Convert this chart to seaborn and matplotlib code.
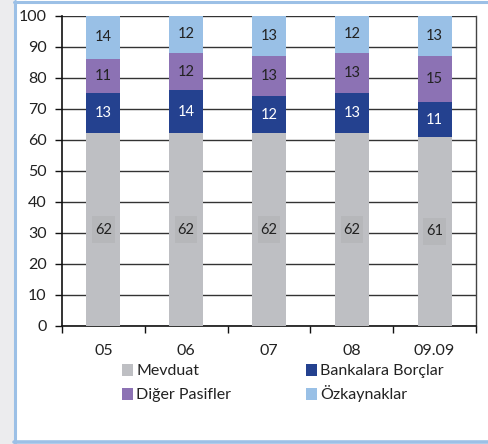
import matplotlib
matplotlib.use("Agg")
import matplotlib.pyplot as plt
from matplotlib.patches import Rectangle
from matplotlib.lines import Line2D
import numpy as np
import pandas as pd
import seaborn as sns

# Liability structure (%), by year
years = ["05", "06", "07", "08", "09.09"]
mevduat = [62, 62, 62, 62, 61]
bankalara = [13, 14, 12, 13, 11]
diger = [11, 12, 13, 13, 15]
ozkaynak = [14, 12, 13, 12, 13]
series_names = ["Mevduat", "Bankalara Borçlar", "Diğer Pasifler", "Özkaynaklar"]
yticks = list(range(0, 101, 10))

colors = {
    "Mevduat": "#bebfc3",
    "Bankalara Borçlar": "#24418f",
    "Diğer Pasifler": "#8c72b4",
    "Özkaynaklar": "#99c0e6",
}
text_color = "#222222"

sns.set_theme(style="white")
plt.rcParams["font.family"] = ["Lato", "DejaVu Sans"]

W, H = 489, 444
fig = plt.figure(figsize=(W / 100, H / 100), dpi=100)
fig.patch.set_facecolor("white")


def fx(px):
    return px / W


def fy(py):
    return 1 - py / H


# frame: grey strip on the left and a light blue border
fig.patches.append(Rectangle((0, 0), fx(14), 1, transform=fig.transFigure,
                             facecolor="#ececee", edgecolor="none", zorder=0))
fig.add_artist(Line2D([fx(15.5), fx(15.5)], [0, fy(1)], transform=fig.transFigure,
                      color="#9cc0e6", lw=2.2))
fig.add_artist(Line2D([fx(14.5), 1], [fy(2.2), fy(2.2)], transform=fig.transFigure,
                      color="#9cc0e6", lw=2.2))
fig.add_artist(Line2D([fx(14.5), 1], [fy(442.2), fy(442.2)], transform=fig.transFigure,
                      color="#9cc0e6", lw=2.6))

left, right, top, bottom = 62, 476, 15.7, 325.7
ax = fig.add_axes([fx(left), fy(bottom), fx(right - left), (bottom - top) / H])

df = pd.DataFrame({
    "year": years,
    "Mevduat": mevduat,
    "Bankalara Borçlar": bankalara,
    "Diğer Pasifler": diger,
    "Özkaynaklar": ozkaynak,
})
cum = df[series_names].cumsum(axis=1)

# stacked bars: draw cumulative totals from the top layer down
for name in reversed(series_names):
    sns.barplot(x=df["year"], y=cum[name], color=colors[name], width=0.41,
                saturation=1, linewidth=0, edgecolor="none", ax=ax, zorder=3)

# segment labels
box_w, box_h = 0.27, 8.8
for i in range(len(years)):
    base = 0
    for name in series_names:
        v = df[name].iloc[i]
        yc = base + v / 2
        if name == "Mevduat":
            ax.add_patch(Rectangle((i - box_w / 2, yc - box_h / 2), box_w, box_h,
                                   facecolor="#b6b7ba", edgecolor="none", zorder=4))
            ax.text(i, yc, f"{v}", ha="center", va="center", fontsize=10.5,
                    color=text_color, zorder=5)
        else:
            tc = "white" if name == "Bankalara Borçlar" else text_color
            ax.text(i, yc, f"{v}", ha="center", va="center", fontsize=10.5,
                    color=tc, zorder=5)
        base += v

ax.set_ylim(0, 100)
ax.set_xlim(-0.5, len(years) - 0.5)
ax.set_yticks(yticks)
ax.yaxis.grid(True, color="#333333", linewidth=1.0, zorder=0)
ax.set_axisbelow(True)
ax.set_xlabel("")
ax.set_ylabel("")

for s in ["left", "bottom"]:
    ax.spines[s].set_color("#111111")
    ax.spines[s].set_linewidth(1.2)
ax.spines["right"].set_color("#444444")
ax.spines["right"].set_linewidth(1.0)
ax.spines["top"].set_visible(False)

ax.tick_params(axis="y", which="major", length=5, width=1, direction="out",
               color="#111111", labelsize=11.5, labelcolor=text_color, pad=6, left=True)
ax.tick_params(axis="x", which="major", length=0, labelsize=11.5,
               labelcolor=text_color, pad=13)
ax.set_xticks(np.arange(-0.5, len(years), 1.0), minor=True)
ax.tick_params(axis="x", which="minor", length=5, width=1, direction="out",
               color="#111111", bottom=True)

# legend, two columns below the axes
legend_items = [
    ("Mevduat", 122, 370),
    ("Diğer Pasifler", 122, 394),
    ("Bankalara Borçlar", 306, 370),
    ("Özkaynaklar", 306, 394),
]
for name, x0, yc in legend_items:
    fig.patches.append(Rectangle((fx(x0), fy(yc + 6)), fx(11), 12 / H,
                                 transform=fig.transFigure,
                                 facecolor=colors[name], edgecolor="none"))
    fig.text(fx(x0 + 14), fy(yc + 5), name, ha="left", va="baseline",
             fontsize=11.5, color=text_color)

fig.savefig("out.png", dpi=100, facecolor="white")
